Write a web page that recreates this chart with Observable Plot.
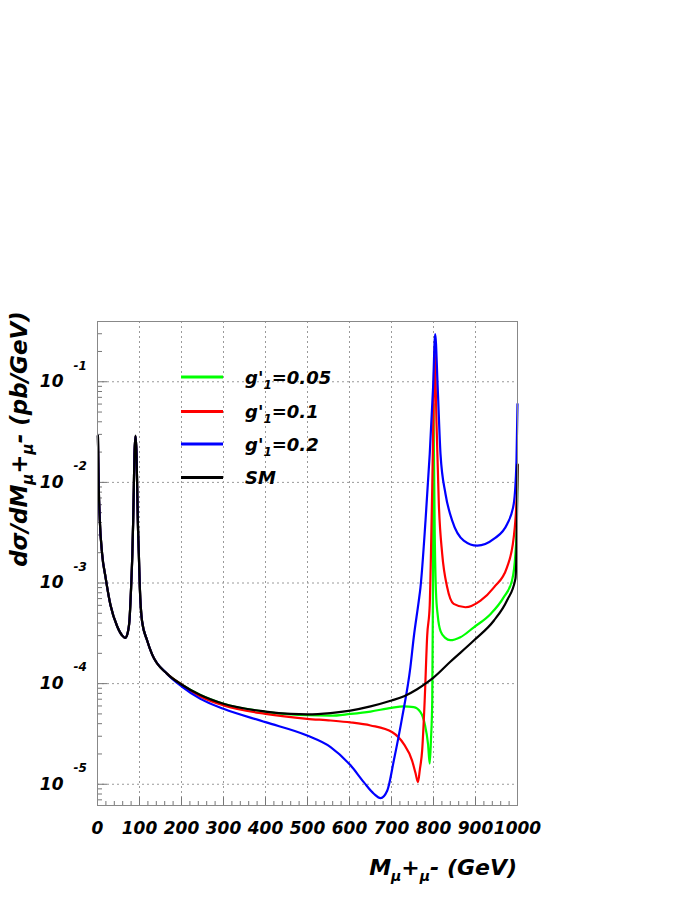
<!DOCTYPE html>
<html><head><meta charset="utf-8">
<script src="https://cdn.jsdelivr.net/npm/d3@7"></script>
<script src="https://cdn.jsdelivr.net/npm/@observablehq/plot@0.6"></script>
<style>body{margin:0;background:#fff}</style>
</head><body><div id="chart"></div>
<script>
// ---- data ----
// common low-mass part (photon pole + Z peak), identical for all curves
const lowX = [1, 3, 5.5, 11, 19, 31, 47, 59, 66, 71, 76, 80, 83, 85, 86.5, 88, 90.5, 93, 94.5, 96, 98.4, 100.8, 106, 118, 130, 166];
const lowY = [0.029, 8.9e-3, 4.2e-3, 1.95e-3, 1.15e-3, 6.0e-4, 3.7e-4, 3.0e-4, 2.85e-4, 3.1e-4, 4.2e-4, 9.0e-4, 1.95e-3, 4.2e-3, 8.9e-3, 0.019, 0.029, 0.019, 8.9e-3, 4.2e-3, 1.95e-3, 9.0e-4, 4.2e-4, 2.7e-4, 1.95e-4, 1.25e-4];

const smX = [200, 245, 300, 400, 460, 500, 555, 602, 650, 700, 730, 761, 785, 800, 840, 896, 944, 975, 995, 998, 1000];
const smY = [9.8e-5, 7.7e-5, 6.3e-5, 5.28e-5, 5.0e-5, 4.95e-5, 5.1e-5, 5.4e-5, 5.95e-5, 6.8e-5, 7.5e-5, 8.8e-5, 1.03e-4, 1.15e-4, 1.65e-4, 2.68e-4, 4.24e-4, 6.7e-4, 1.1e-3, 2.5e-3, 0.015];

const g005X = [200, 245, 300, 400, 460, 500, 555, 602, 650, 700, 729, 753, 769, 779, 787, 791, 794, 797, 799, 800, 801, 803, 806, 810, 817, 828, 840, 864, 896, 936, 967, 987, 995, 998, 1000];
const g005Y = [9.8e-5, 7.7e-5, 6.3e-5, 5.25e-5, 4.95e-5, 4.85e-5, 4.8e-5, 5.0e-5, 5.28e-5, 5.75e-5, 5.93e-5, 5.83e-5, 5.2e-5, 4.0e-5, 2.5e-5, 1.6e-5, 2.8e-5, 6.8e-5, 1.2e-3, 0.06, 0.02, 3e-3, 8e-4, 4.8e-4, 3.3e-4, 2.85e-4, 2.7e-4, 2.89e-4, 3.63e-4, 4.93e-4, 7.2e-4, 1.06e-3, 1.95e-3, 3.5e-3, 0.015];

const g01X = [200, 245, 300, 400, 499, 555, 602, 650, 702, 729, 749, 757, 763, 767.5, 773, 779, 785, 791, 794, 797, 800, 802.5, 805, 807, 812.7, 820.7, 832.6, 848, 876, 912, 944, 975, 991, 999, 1000];
const g01Y = [9.8e-5, 7.45e-5, 6.07e-5, 5.0e-5, 4.47e-5, 4.3e-5, 4.12e-5, 3.84e-5, 3.29e-5, 2.52e-5, 1.72e-5, 1.3e-5, 1.05e-5, 1.4e-5, 2.17e-5, 6.8e-5, 3.0e-4, 6e-4, 2.0e-3, 8.9e-3, 0.05, 0.22, 0.1, 0.041, 6.1e-3, 1.95e-3, 9.06e-4, 6.2e-4, 5.74e-4, 6.68e-4, 9.06e-4, 1.43e-3, 2.84e-3, 8.9e-3, 0.015];

const g02X = [200, 245, 300, 400, 499, 555, 602, 634, 658, 674, 690, 705.5, 725.5, 745, 753, 765, 769, 781, 791, 799, 804, 810, 816.7, 828.6, 844.5, 872, 904, 943.6, 975.5, 991, 997.6, 1000];
const g02Y = [9.4e-5, 7.06e-5, 5.62e-5, 4.14e-5, 3.05e-5, 2.34e-5, 1.55e-5, 1.05e-5, 8.05e-6, 7.28e-6, 8.67e-6, 1.72e-5, 4.65e-5, 1.46e-4, 2.89e-4, 6.68e-4, 9.06e-4, 4.17e-3, 0.0191, 0.0878, 0.298, 0.0878, 0.0191, 7.67e-3, 4.17e-3, 2.64e-3, 2.35e-3, 2.74e-3, 3.86e-3, 6.1e-3, 0.0164, 0.06];

const seriesNames = ["g'1=0.05", "g'1=0.1", "g'1=0.2", "SM"];
const seriesColors = ["#00ff00", "#ff0000", "#0000ff", "#000000"];
const xTickLabels = [0, 100, 200, 300, 400, 500, 600, 700, 800, 900, 1000];
const yTickExponents = [-5, -4, -3, -2, -1];

// ---- build tables ----
function rows(xs, ys, name) {
  return lowX.map((x, i) => ({x, y: lowY[i], series: name}))
    .concat(xs.map((x, i) => ({x, y: ys[i], series: name})));
}
const tables = [rows(g005X, g005Y, seriesNames[0]), rows(g01X, g01Y, seriesNames[1]), rows(g02X, g02Y, seriesNames[2]), rows(smX, smY, seriesNames[3])];

const yMin = 6.15e-6, yMax = 0.397;
const yMajor = yTickExponents.map(e => Math.pow(10, e));
const yMinor = [];
for (let e = -6; e <= -1; e++) for (let m = 2; m <= 9; m++) { const v = m * Math.pow(10, e); if (v > yMin && v < yMax) yMinor.push(v); }
const xMinor = d3.range(0, 1001, 20);
const xGrid = xTickLabels.filter(v => v > 0 && v < 1000);

const FW = 420, FH = 484; // frame size
const font = {fontFamily: "DejaVu Sans", fontWeight: "bold", fontStyle: "italic", fill: "black"};

const chart = Plot.plot({
  width: 698, height: 903,
  marginLeft: 97, marginRight: 181, marginTop: 321, marginBottom: 98,
  style: {background: "white", overflow: "visible"},
  x: {domain: [0, 1000], axis: null},
  y: {type: "log", domain: [yMin, yMax], axis: null},
  marks: [
    Plot.ruleX(xGrid, {x: d => d, stroke: "#9a9a9a", strokeDasharray: "2,3"}),
    Plot.ruleY(yMajor, {y: d => d, stroke: "#9a9a9a", strokeDasharray: "2,3"}),
    Plot.tickX(xMinor, {x: d => d, stroke: "#777", insetTop: FH - 4}),
    Plot.tickX(xGrid, {x: d => d, stroke: "#777", insetTop: FH - 8}),
    Plot.tickY(yMinor, {y: d => d, stroke: "#777", insetRight: FW - 5}),
    Plot.tickY(yMajor, {y: d => d, stroke: "#777", insetRight: FW - 10}),
    ...tables.map((t, i) => Plot.line(t, {x: "x", y: "y", stroke: seriesColors[i], strokeWidth: 2.2, curve: "monotone-x"})),
    Plot.frame({stroke: "#888"}),
    Plot.text(xTickLabels, {x: d => d, frameAnchor: "bottom", dy: 23, text: d => String(d), fontSize: 17, textAnchor: "middle", lineAnchor: "middle", ...font}),
    Plot.text(yTickExponents, {y: d => Math.pow(10, d), frameAnchor: "left", dx: -34, text: () => "10", fontSize: 17, textAnchor: "end", lineAnchor: "middle", ...font}),
    Plot.text(yTickExponents, {y: d => Math.pow(10, d), frameAnchor: "left", dx: -24, dy: -16, text: d => String(d), fontSize: 12, textAnchor: "start", lineAnchor: "middle", ...font})
  ]
});
document.getElementById("chart").appendChild(chart);

// ---- titles and legend ----
const svg = d3.select(chart);
function styled(sel, size) {
  return sel.attr("font-family", "DejaVu Sans").attr("font-weight", "bold").attr("font-style", "italic").attr("font-size", size).attr("fill", "black");
}
// y title
const yt = styled(svg.append("text"), 23).attr("transform", "translate(27,439) rotate(-90)").attr("text-anchor", "middle");
yt.append("tspan").text("dσ/dM");
yt.append("tspan").attr("dy", 6).attr("font-size", 15).text("μ");
yt.append("tspan").attr("dy", -6).text("+");
yt.append("tspan").attr("dy", 6).attr("font-size", 15).text("μ");
yt.append("tspan").attr("dy", -6).text("- (pb/GeV)");
// x title
const xt = styled(svg.append("text"), 22).attr("x", 517).attr("y", 875).attr("text-anchor", "end");
xt.append("tspan").text("M");
xt.append("tspan").attr("dy", 6).attr("font-size", 14).text("μ");
xt.append("tspan").attr("dy", -6).text("+");
xt.append("tspan").attr("dy", 6).attr("font-size", 14).text("μ");
xt.append("tspan").attr("dy", -6).text("- (GeV)");
// legend
const legendY = [377, 411.5, 444, 477.5];
seriesNames.forEach((name, i) => {
  const y = legendY[i];
  svg.append("line").attr("x1", 181).attr("x2", 223).attr("y1", y).attr("y2", y).attr("stroke", seriesColors[i]).attr("stroke-width", 3);
  const t = styled(svg.append("text"), 18).attr("x", 245).attr("y", y + 6.5).attr("text-anchor", "start");
  if (name.startsWith("g'1")) {
    t.append("tspan").text("g'");
    t.append("tspan").attr("dy", 5).attr("font-size", 12).text("1");
    t.append("tspan").attr("dy", -5).text(name.slice(3));
  } else {
    t.append("tspan").text(name);
  }
});
</script>
</body></html>
